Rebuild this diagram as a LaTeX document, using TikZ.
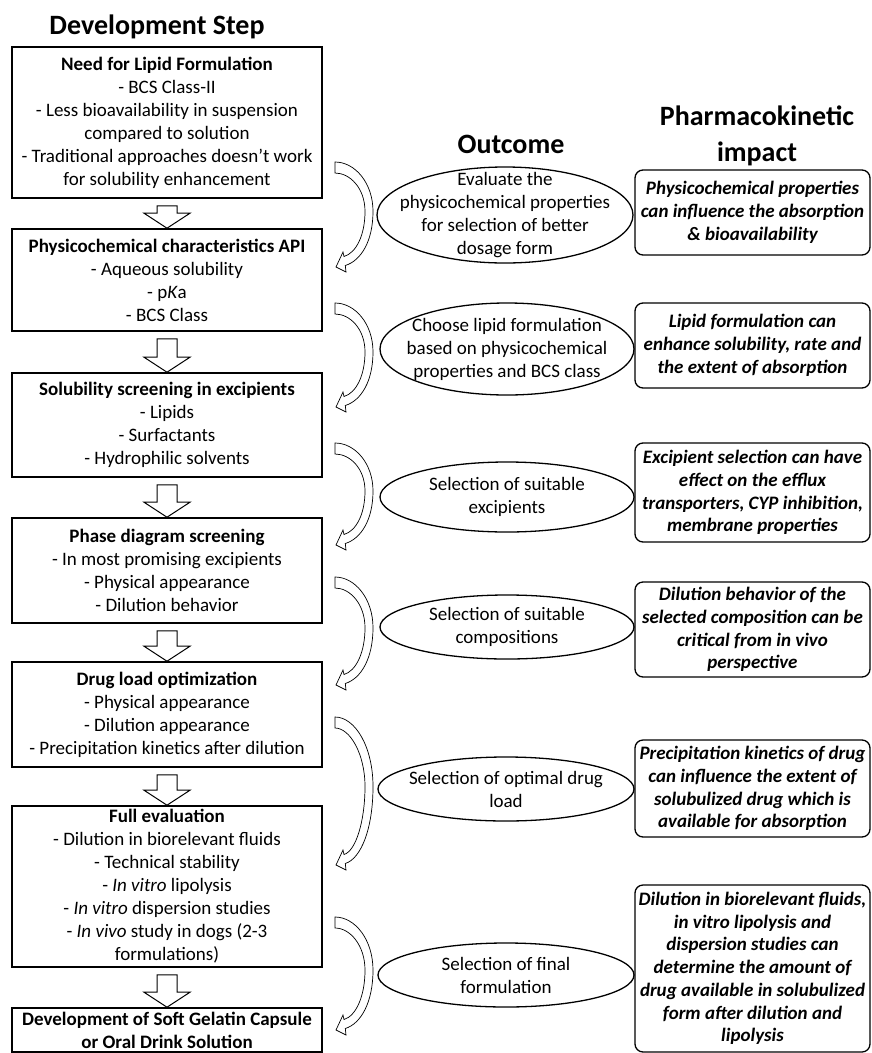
\documentclass[tikz,border=0pt]{standalone}
\usepackage{fontspec}
\setmainfont{Carlito}
\usetikzlibrary{calc}

% hollow bent arrow: #1 = y of tail, #2 = y of tip
\newcommand\bentarrow[2]{%
  \pgfmathsetmacro\h{#2-#1}
  \begin{scope}[shift={(335,#1)}]
  \draw[bent] (0,0) .. controls (20,0) and (38,0.2*\h) .. (38,0.47*\h)
    .. controls (38,0.75*\h) and (26.3,\h-6.5) .. (10.3,\h-1.5)
    -- (11,\h+5) -- (1,\h) -- (8,\h-15) -- (9,\h-10.5)
    .. controls (21,\h-14) and (30,0.7*\h) .. (30,0.47*\h)
    .. controls (30,0.25*\h) and (15,11) .. (0,11) -- cycle;
  \end{scope}}

\begin{document}
\begin{tikzpicture}[x=1pt,y=-1pt,
font=\fontsize{19}{23}\selectfont,
% common options for the titles:
head/.style = {font=\fontsize{28}{34}\selectfont\bfseries, anchor=base},
% common options for the development steps:
stepbox/.style = {draw, line width=1.6pt, minimum width=310pt, align=center, inner sep=0},
% common options for the outcomes:
outcome/.style = {align=center, inner sep=0},
ring/.style = {draw, line width=1.3pt},
% common options for the impact boxes:
impact/.style = {draw, rounded corners=8pt, line width=1.3pt, minimum width=235pt,
            align=center, inner sep=0, font=\fontsize{19}{22.7}\selectfont\bfseries\itshape},
flow/.style = {draw, line width=1pt, fill=white},
bent/.style = {draw, line width=0.7pt, fill=white}]
\useasboundingbox (0,0) rectangle (872,1053);
\node[head] (S0) at (157,34) {Development Step};
\node[stepbox, minimum height=151pt] (S1) at (167,122.5) {\textbf{Need for Lipid Formulation}\\- BCS Class-II\\- Less bioavailability in suspension\\compared to solution\\- Traditional approaches doesn’t work\\for solubility enhancement};
\node[stepbox, minimum height=102pt] (S2) at (167,280) {\textbf{Physicochemical characteristics API}\\- Aqueous solubility\\- p\textit{K}a\\- BCS Class};
\node[stepbox, minimum height=104pt] (S3) at (167,425) {\textbf{Solubility screening in excipients}\\- Lipids\\- Surfactants\\- Hydrophilic solvents};
\node[stepbox, minimum height=105pt] (S4) at (167,570.5) {\textbf{Phase diagram screening}\\- In most promising excipients\\- Physical appearance\\- Dilution behavior};
\node[stepbox, minimum height=105pt] (S5) at (167,714.5) {\textbf{Drug load optimization}\\- Physical appearance\\- Dilution appearance\\- Precipitation kinetics after dilution};
\node[stepbox, minimum height=161pt] (S6) at (167,886.5) {\textbf{Full evaluation}\\- Dilution in biorelevant fluids\\- Technical stability\\- \textit{In vitro} lipolysis\\- \textit{In vitro} dispersion studies\\- \textit{In vivo} study in dogs (2-3\\formulations)};
\node[stepbox, minimum height=44pt] (S7) at (167,1030) {\textbf{Development of Soft Gelatin Capsule}\\\textbf{or Oral Drink Solution}};

\node[head] (O0) at (511,153) {Outcome};
\node[outcome] (O1) at (505,215) {Evaluate the\\physicochemical properties\\for selection of better\\dosage form};
\node[outcome] (O2) at (507,349) {Choose lipid formulation\\based on physicochemical\\properties and BCS class};
\node[outcome] (O3) at (507,497) {Selection of suitable\\excipients};
\node[outcome] (O4) at (507,627) {Selection of suitable\\compositions};
\node[outcome] (O5) at (506,789) {Selection of optimal drug\\load};
\node[outcome] (O6) at (506,975) {Selection of final\\formulation};
\draw[ring] (O1) ellipse [x radius=128, y radius=48];
\draw[ring] (O2) ellipse [x radius=127, y radius=46];
\draw[ring] (O3) ellipse [x radius=127, y radius=35];
\draw[ring] (O4) ellipse [x radius=127, y radius=32];
\draw[ring] (O5) ellipse [x radius=128, y radius=32];
\draw[ring] (O6) ellipse [x radius=128, y radius=32];

\node[head] (P0) at (757,125) {Pharmacokinetic};
\node[head] (P0b) at (757,161) {impact};
\node[impact, minimum height=85pt] (P1) at (752.5,212.5) {Physicochemical properties\\can influence the absorption\\\& bioavailability};
\node[impact, minimum height=85pt] (P2) at (752.5,345.5) {Lipid formulation can\\enhance solubility, rate and\\the extent of absorption};
\node[impact, minimum height=99pt] (P3) at (752.5,492.5) {Excipient selection can have\\effect on the efflux\\transporters, CYP inhibition,\\membrane properties};
\node[impact, minimum height=95pt] (P4) at (752.5,629.5) {Dilution behavior of the\\selected composition can be\\critical from in vivo\\perspective};
\node[impact, minimum height=97pt] (P5) at (752.5,788.5) {Precipitation kinetics of drug\\can influence the extent of\\solubulized drug which is\\available for absorption};
\node[impact, minimum height=167pt] (P6) at (752.5,968.5) {Dilution in biorelevant fluids,\\in vitro lipolysis and\\dispersion studies can\\determine the amount of\\drug available in solubulized\\form after dilution and\\lipolysis};

% block arrows between the steps
\draw[flow] ($(S1.south)+(-10,7)$) -- ($(S1.south)+(10,7)$) -- ($(S2.north)+(10,-15)$) -- ($(S2.north)+(23,-15)$) -- (S2.north) -- ($(S2.north)+(-23,-15)$) -- ($(S2.north)+(-10,-15)$) -- cycle;
\draw[flow] ($(S2.south)+(-10,7)$) -- ($(S2.south)+(10,7)$) -- ($(S3.north)+(10,-15)$) -- ($(S3.north)+(23,-15)$) -- (S3.north) -- ($(S3.north)+(-23,-15)$) -- ($(S3.north)+(-10,-15)$) -- cycle;
\draw[flow] ($(S3.south)+(-10,7)$) -- ($(S3.south)+(10,7)$) -- ($(S4.north)+(10,-15)$) -- ($(S4.north)+(23,-15)$) -- (S4.north) -- ($(S4.north)+(-23,-15)$) -- ($(S4.north)+(-10,-15)$) -- cycle;
\draw[flow] ($(S4.south)+(-10,7)$) -- ($(S4.south)+(10,7)$) -- ($(S5.north)+(10,-15)$) -- ($(S5.north)+(23,-15)$) -- (S5.north) -- ($(S5.north)+(-23,-15)$) -- ($(S5.north)+(-10,-15)$) -- cycle;
\draw[flow] ($(S5.south)+(-10,7)$) -- ($(S5.south)+(10,7)$) -- ($(S6.north)+(10,-15)$) -- ($(S6.north)+(23,-15)$) -- (S6.north) -- ($(S6.north)+(-23,-15)$) -- ($(S6.north)+(-10,-15)$) -- cycle;
\draw[flow] ($(S6.south)+(-10,7)$) -- ($(S6.south)+(10,7)$) -- ($(S7.north)+(10,-15)$) -- ($(S7.north)+(23,-15)$) -- (S7.north) -- ($(S7.north)+(-23,-15)$) -- ($(S7.north)+(-10,-15)$) -- cycle;

% bent arrows past the outcomes
\bentarrow{162}{267}
\bentarrow{303}{407}
\bentarrow{443}{545}
\bentarrow{577}{685}
\bentarrow{717}{865}
\bentarrow{917}{1030}
\end{tikzpicture}
\end{document}
